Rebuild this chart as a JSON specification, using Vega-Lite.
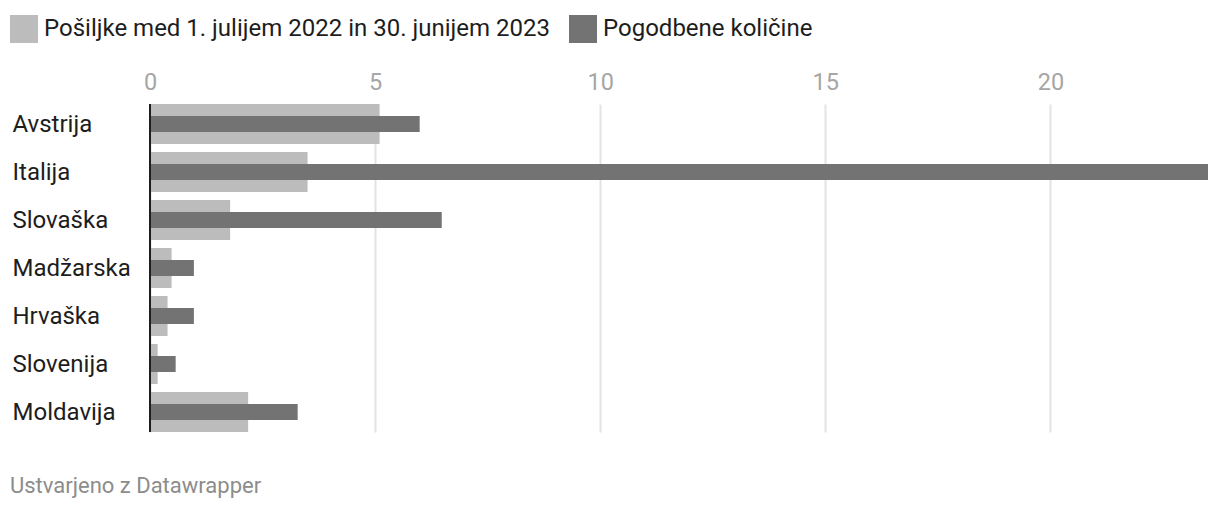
{
  "$schema": "https://vega.github.io/schema/vega-lite/v6.json",
  "width": 1058,
  "height": 328,
  "autosize": {"type": "none"},
  "padding": {"left": 150, "top": 104, "right": 12, "bottom": 78},
  "background": "#ffffff",
  "config": {
    "font": "Roboto",
    "view": {"stroke": null}
  },
  "title": {
    "text": "Ustvarjeno z Datawrapper",
    "orient": "bottom",
    "anchor": "start",
    "frame": "group",
    "dx": -140,
    "offset": 43,
    "fontSize": 22,
    "fontWeight": "normal",
    "color": "#8c8c8c",
    "font": "Roboto"
  },
  "data": {
    "values": [
      {"country": "Avstrija", "series": "Pošiljke med 1. julijem 2022 in 30. junijem 2023", "value": 5.1},
      {"country": "Italija", "series": "Pošiljke med 1. julijem 2022 in 30. junijem 2023", "value": 3.5},
      {"country": "Slovaška", "series": "Pošiljke med 1. julijem 2022 in 30. junijem 2023", "value": 1.78},
      {"country": "Madžarska", "series": "Pošiljke med 1. julijem 2022 in 30. junijem 2023", "value": 0.48},
      {"country": "Hrvaška", "series": "Pošiljke med 1. julijem 2022 in 30. junijem 2023", "value": 0.39},
      {"country": "Slovenija", "series": "Pošiljke med 1. julijem 2022 in 30. junijem 2023", "value": 0.17},
      {"country": "Moldavija", "series": "Pošiljke med 1. julijem 2022 in 30. junijem 2023", "value": 2.18},
      {"country": "Avstrija", "series": "Pogodbene količine", "value": 5.99},
      {"country": "Italija", "series": "Pogodbene količine", "value": 23.5},
      {"country": "Slovaška", "series": "Pogodbene količine", "value": 6.48},
      {"country": "Madžarska", "series": "Pogodbene količine", "value": 0.975},
      {"country": "Hrvaška", "series": "Pogodbene količine", "value": 0.975},
      {"country": "Slovenija", "series": "Pogodbene količine", "value": 0.57},
      {"country": "Moldavija", "series": "Pogodbene količine", "value": 3.28}
    ]
  },
  "layer": [
    {
      "transform": [{"filter": "datum.series === 'Pošiljke med 1. julijem 2022 in 30. junijem 2023'"}],
      "mark": {"type": "bar", "cornerRadius": 0},
      "encoding": {
        "y": {
          "field": "country",
          "type": "nominal",
          "sort": ["Avstrija", "Italija", "Slovaška", "Madžarska", "Hrvaška", "Slovenija", "Moldavija"],
          "scale": {"paddingInner": 0.1666667, "paddingOuter": 0},
          "axis": {
            "title": null,
            "orient": "left",
            "ticks": false,
            "domain": false,
            "grid": false,
            "labelAlign": "left",
            "labelPadding": 138,
            "labelFontSize": 24,
            "labelColor": "#1d1d1d",
            "labelBaseline": "middle",
            "labelOffset": 1
          }
        },
        "x": {
          "field": "value",
          "type": "quantitative",
          "scale": {"domain": [0, 23.5], "nice": false, "clamp": true},
          "axis": {
            "title": null,
            "orient": "top",
            "values": [0, 5, 10, 15, 20],
            "ticks": false,
            "domain": false,
            "grid": true,
            "gridColor": "#e3e3e3",
            "gridWidth": 2,
            "labelFontSize": 23.5,
            "labelColor": "#a6a6a6",
            "labelPadding": 10,
            "labelFlush": false
          }
        },
        "color": {
          "field": "series",
          "type": "nominal",
          "scale": {
            "domain": ["Pošiljke med 1. julijem 2022 in 30. junijem 2023", "Pogodbene količine"],
            "range": ["#bcbcbc", "#737373"]
          },
          "legend": {
            "title": null,
            "orient": "none",
            "legendX": -140,
            "legendY": -89,
            "direction": "horizontal",
            "columns": 2,
            "symbolType": "square",
            "symbolSize": 784,
            "symbolStrokeWidth": 0,
            "symbolOpacity": 1,
            "labelFontSize": 24,
            "labelColor": "#1d1d1d",
            "labelOffset": 6,
            "columnPadding": 19,
            "labelLimit": 0
          }
        }
      }
    },
    {
      "transform": [{"filter": "datum.series === 'Pogodbene količine'"}],
      "mark": {"type": "bar", "size": 16, "cornerRadius": 0},
      "encoding": {
        "y": {
          "field": "country",
          "type": "nominal",
          "sort": ["Avstrija", "Italija", "Slovaška", "Madžarska", "Hrvaška", "Slovenija", "Moldavija"]
        },
        "x": {"field": "value", "type": "quantitative"},
        "color": {"field": "series", "type": "nominal"}
      }
    },
    {
      "mark": {"type": "rule", "color": "#1d1d1d", "strokeWidth": 2},
      "encoding": {
        "x": {"datum": 0, "type": "quantitative"}
      }
    }
  ]
}
